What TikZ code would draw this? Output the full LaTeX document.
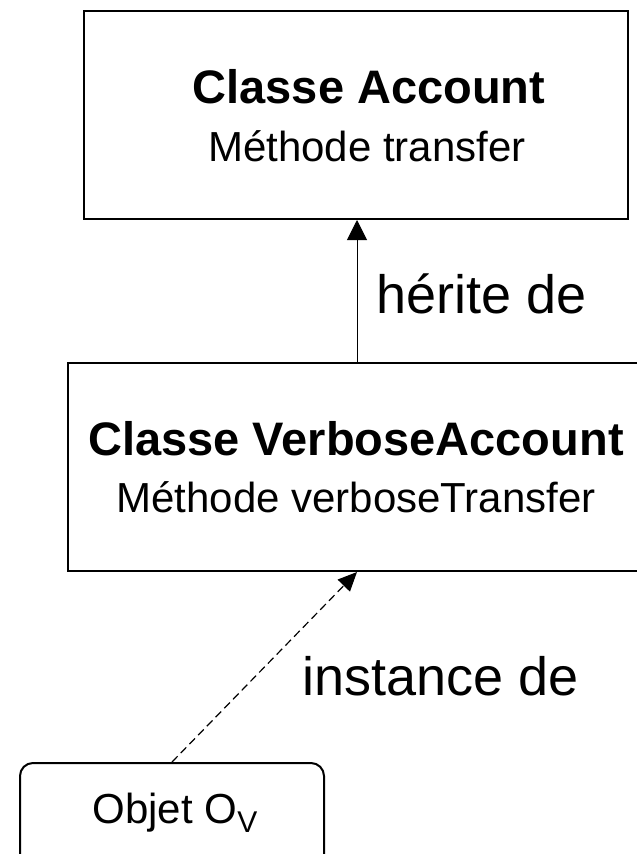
\documentclass[tikz,border=0pt]{standalone}
\usepackage{fontspec}
\setmainfont{Liberation Sans}
\usetikzlibrary{arrows.meta}

\tikzset{
  classbox/.style={draw, line width=2pt, inner sep=0pt, minimum height=208pt},
  objbox/.style={draw, line width=2pt, rounded corners=13pt, inner sep=0pt,
    minimum width=304pt, minimum height=117pt},
  title/.style={font=\fontsize{47}{56}\selectfont\bfseries, anchor=base, inner sep=0pt},
  method/.style={font=\fontsize{42}{50}\selectfont, anchor=base, inner sep=0pt},
  relation/.style={font=\fontsize{54}{62}\selectfont, anchor=base west, inner sep=0pt},
  inherit/.style={line width=1pt, -{Triangle[length=20pt,width=20pt]}},
  instance/.style={line width=1.2pt, dash pattern=on 8pt off 4.5pt, -{Triangle[length=19pt,width=17pt]}},
}

\begin{document}
\begin{tikzpicture}[x=1pt, y=-1pt]
  \useasboundingbox (0,0) rectangle (637,854);
  \begin{scope}
    \clip (0,0) rectangle (637,854);

    % class boxes
    \node[classbox, minimum width=544pt] (acc) at (356,115) {};
    \node[classbox, minimum width=578pt] (va)  at (357,467) {};

    % object box
    \node[objbox] (obj) at (172,821.5) {};

    % texts
    \node[title]  (t1) at (369,103) {Classe Account};
    \node[method] (m1) at (367,161) {Méthode transfer};
    \node[title]  (t2) at (356,455) {Classe VerboseAccount};
    \node[method] (m2) at (356,512) {Méthode verboseTransfer};
    \node[method] (o)  at (175,823) {Objet O\raisebox{-9pt}{\fontsize{30}{36}\selectfont V}};

    % relations
    \draw[inherit] (va.north) -- (va.north |- acc.south);
    \node[relation] (l1) at (376,313) {hérite de};
    \draw[instance] (obj.north) -- (va.south);
    \node[relation] (l2) at (302,695) {instance de};
  \end{scope}
\end{tikzpicture}
\end{document}
